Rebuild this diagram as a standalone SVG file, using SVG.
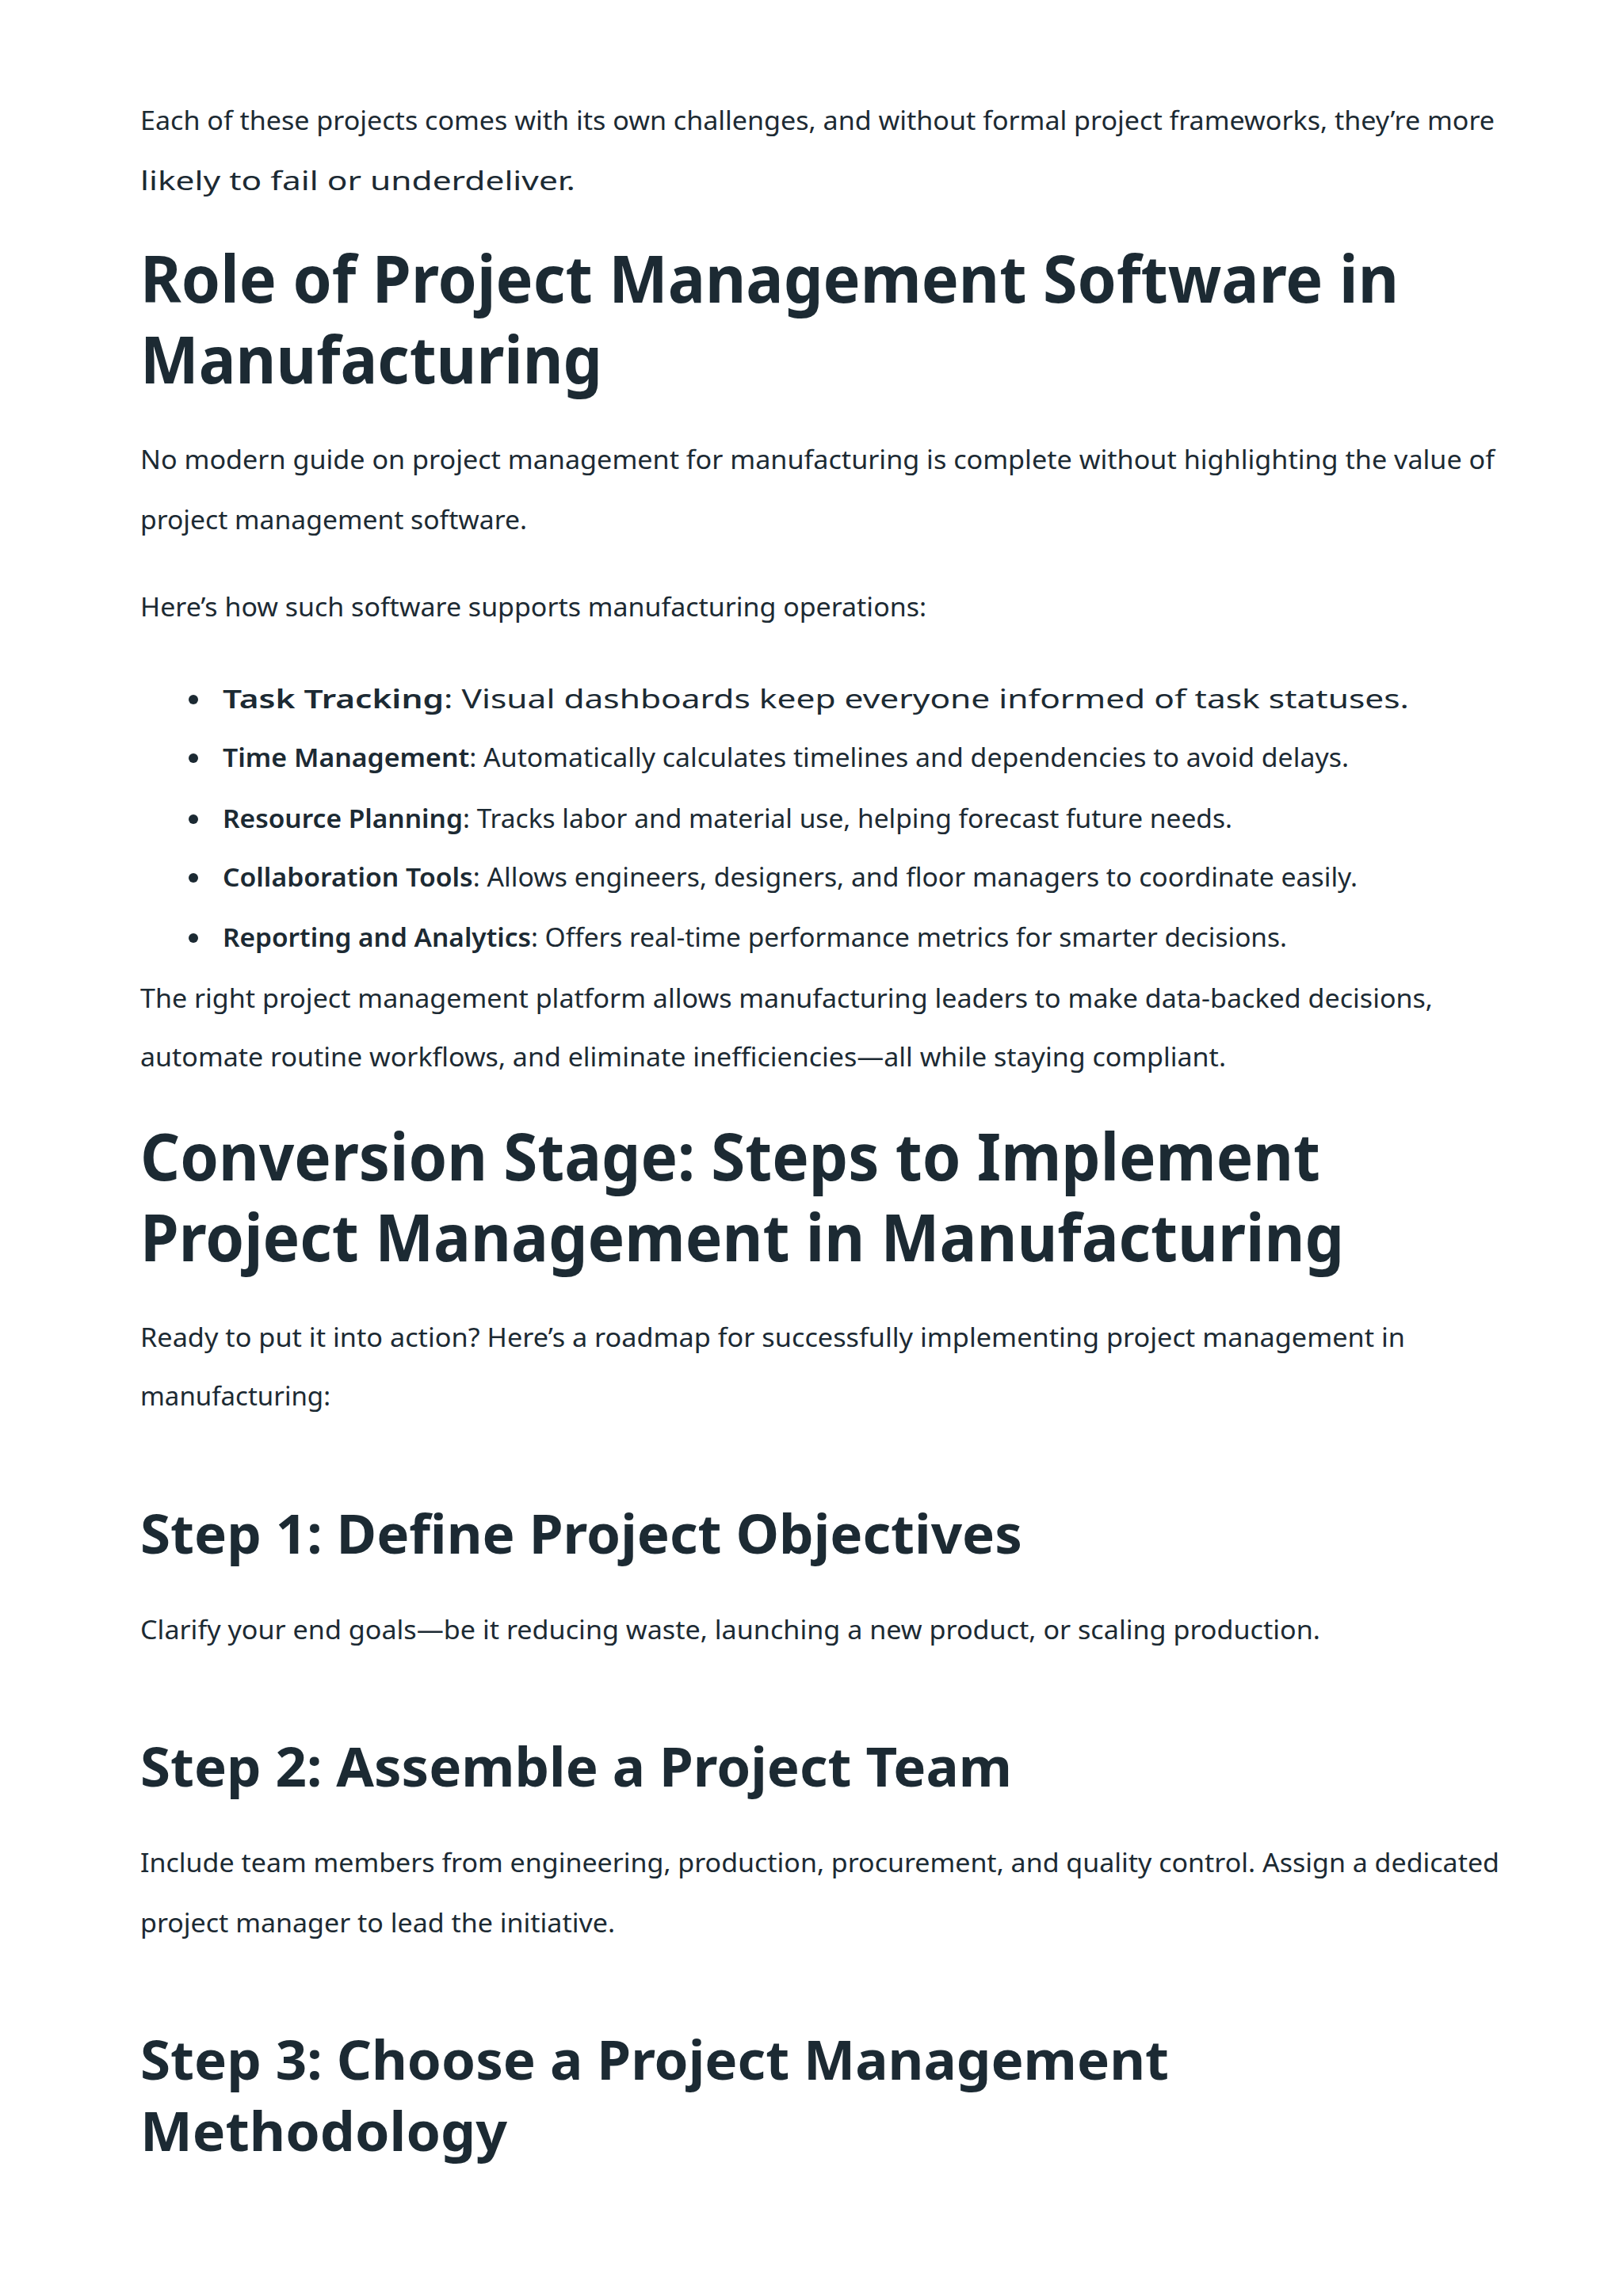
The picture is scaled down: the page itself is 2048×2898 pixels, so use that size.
<svg xmlns="http://www.w3.org/2000/svg" width="2048" height="2898" viewBox="0 0 2048 2898">
<style>
text{fill:#1c2a33;font-family:"Noto Sans","Open Sans","DejaVu Sans",sans-serif}
.p{font-size:32px}
.h1{font-size:82px;font-weight:700}
.h2{font-size:68px;font-weight:700}
.b{font-weight:600}
</style>
<rect width="2048" height="2898" fill="#fff"/>
<g id="intro">
<text class="p" x="177" y="164" textLength="1709" lengthAdjust="spacingAndGlyphs">Each of these projects comes with its own challenges, and without formal project frameworks, they’re more</text>
<text class="p" x="177" y="240" textLength="549" lengthAdjust="spacingAndGlyphs">likely to fail or underdeliver.</text>
</g>
<g id="heading-role">
<text class="h1" x="177" y="382" textLength="1588" lengthAdjust="spacingAndGlyphs">Role of Project Management Software in</text>
<text class="h1" x="177" y="484" textLength="583" lengthAdjust="spacingAndGlyphs">Manufacturing</text>
</g>
<g id="role-text">
<text class="p" x="177" y="592" textLength="1709" lengthAdjust="spacingAndGlyphs">No modern guide on project management for manufacturing is complete without highlighting the value of</text>
<text class="p" x="177" y="668" textLength="488" lengthAdjust="spacingAndGlyphs">project management software.</text>
<text class="p" x="177" y="778" textLength="992" lengthAdjust="spacingAndGlyphs">Here’s how such software supports manufacturing operations:</text>
</g>
<g id="bullets">
<circle cx="244" cy="883" r="6" fill="#1c2a33"/>
<text class="p" x="281" y="894" textLength="1497" lengthAdjust="spacingAndGlyphs"><tspan class="b">Task Tracking</tspan>: Visual dashboards keep everyone informed of task statuses.</text>
<circle cx="244" cy="957" r="6" fill="#1c2a33"/>
<text class="p" x="281" y="968" textLength="1421" lengthAdjust="spacingAndGlyphs"><tspan class="b">Time Management</tspan>: Automatically calculates timelines and dependencies to avoid delays.</text>
<circle cx="244" cy="1034" r="6" fill="#1c2a33"/>
<text class="p" x="281" y="1045" textLength="1274" lengthAdjust="spacingAndGlyphs"><tspan class="b">Resource Planning</tspan>: Tracks labor and material use, helping forecast future needs.</text>
<circle cx="244" cy="1108" r="6" fill="#1c2a33"/>
<text class="p" x="281" y="1119" textLength="1432" lengthAdjust="spacingAndGlyphs"><tspan class="b">Collaboration Tools</tspan>: Allows engineers, designers, and floor managers to coordinate easily.</text>
<circle cx="244" cy="1184" r="6" fill="#1c2a33"/>
<text class="p" x="281" y="1195" textLength="1343" lengthAdjust="spacingAndGlyphs"><tspan class="b">Reporting and Analytics</tspan>: Offers real-time performance metrics for smarter decisions.</text>
</g>
<g id="right-platform">
<text class="p" x="177" y="1272" textLength="1631" lengthAdjust="spacingAndGlyphs">The right project management platform allows manufacturing leaders to make data-backed decisions,</text>
<text class="p" x="177" y="1346" textLength="1370" lengthAdjust="spacingAndGlyphs">automate routine workflows, and eliminate inefficiencies—all while staying compliant.</text>
</g>
<g id="heading-conversion">
<text class="h1" x="177" y="1490" textLength="1489" lengthAdjust="spacingAndGlyphs">Conversion Stage: Steps to Implement</text>
<text class="h1" x="177" y="1592" textLength="1519" lengthAdjust="spacingAndGlyphs">Project Management in Manufacturing</text>
</g>
<g id="conversion-text">
<text class="p" x="177" y="1700" textLength="1596" lengthAdjust="spacingAndGlyphs">Ready to put it into action? Here’s a roadmap for successfully implementing project management in</text>
<text class="p" x="177" y="1774" textLength="240" lengthAdjust="spacingAndGlyphs">manufacturing:</text>
</g>
<g id="step1">
<text class="h2" x="177" y="1961" textLength="1113" lengthAdjust="spacingAndGlyphs">Step 1: Define Project Objectives</text>
<text class="p" x="177" y="2069" textLength="1489" lengthAdjust="spacingAndGlyphs">Clarify your end goals—be it reducing waste, launching a new product, or scaling production.</text>
</g>
<g id="step2">
<text class="h2" x="177" y="2255" textLength="1100" lengthAdjust="spacingAndGlyphs">Step 2: Assemble a Project Team</text>
<text class="p" x="177" y="2363" textLength="1715" lengthAdjust="spacingAndGlyphs">Include team members from engineering, production, procurement, and quality control. Assign a dedicated</text>
<text class="p" x="177" y="2439" textLength="599" lengthAdjust="spacingAndGlyphs">project manager to lead the initiative.</text>
</g>
<g id="step3">
<text class="h2" x="177" y="2625" textLength="1298" lengthAdjust="spacingAndGlyphs">Step 3: Choose a Project Management</text>
<text class="h2" x="177" y="2715" textLength="463" lengthAdjust="spacingAndGlyphs">Methodology</text>
</g>
</svg>
